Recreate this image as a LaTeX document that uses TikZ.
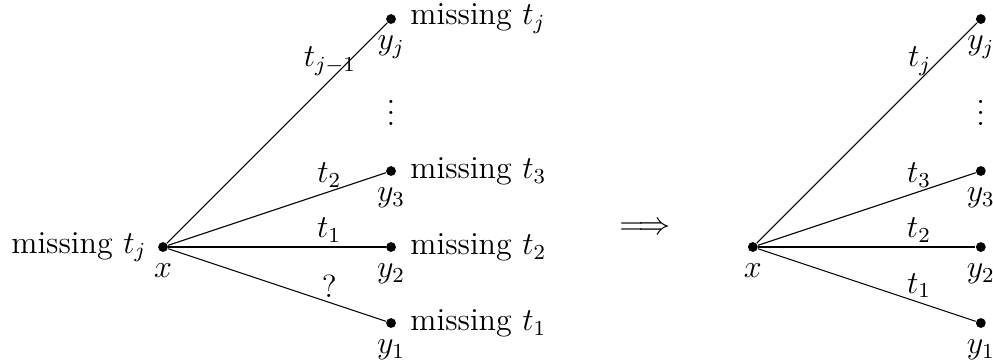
\documentclass[tikz,border=0pt,12pt]{standalone}
\begin{document}
\begin{tikzpicture}[
        dot/.style={
            circle,
            fill=black,
            inner sep=1.3pt
        },
        lbl/.style={above, pos=0.74, inner sep=1.5pt}
    ]
    \useasboundingbox (-2.145,-1.5) rectangle (10.92,3.25);

    \node[dot, label=below:$x$, label=left:{missing $t_j$}] (x) at (0, 0) {};
    \node[dot, label=below:$y_1$, label={[label distance=1pt]right:{missing $t_1$}}] (y1) at (3, -1) {};
    \node[dot, label=below:$y_2$, label={[label distance=1pt]right:{missing $t_2$}}] (y2) at (3, 0) {};
    \node[dot, label=below:$y_3$, label={[label distance=1pt]right:{missing $t_3$}}] (y3) at (3, 1) {};
    \node[dot, label=below:$y_j$, label={[label distance=1pt]right:{missing $t_j$}}] (yj) at (3, 3) {};
    \node[inner sep=0pt] (vd) at (3, 1.87) {$\vdots$};

    \draw (x) -- node[lbl] {$?$} (y1);
    \draw (x) -- node[lbl] {$t_1$} (y2);
    \draw (x) -- node[lbl] {$t_2$} (y3);
    \draw (x) -- node[lbl] {$t_{j-1}$} (yj);

    \node (imp) at (6.34, 0.24) {$\Longrightarrow$};

    \node[dot, label=below:$x$] (xr) at (7.76, 0) {};
    \node[dot, label=below:$y_1$] (yr1) at (10.76, -1) {};
    \node[dot, label=below:$y_2$] (yr2) at (10.76, 0) {};
    \node[dot, label=below:$y_3$] (yr3) at (10.76, 1) {};
    \node[dot, label=below:$y_j$] (yrj) at (10.76, 3) {};
    \node[inner sep=0pt] (vdr) at (10.76, 1.87) {$\vdots$};

    \draw (xr) -- node[lbl] {$t_1$} (yr1);
    \draw (xr) -- node[lbl] {$t_2$} (yr2);
    \draw (xr) -- node[lbl] {$t_3$} (yr3);
    \draw (xr) -- node[lbl] {$t_j$} (yrj);

\end{tikzpicture}
\end{document}
